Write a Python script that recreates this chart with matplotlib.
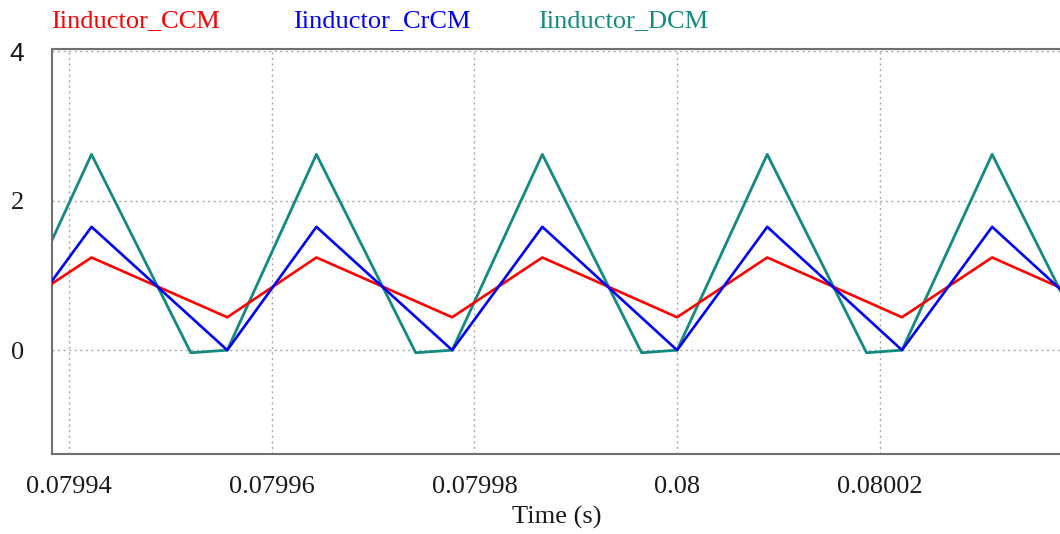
import matplotlib
matplotlib.use("Agg")
import matplotlib.pyplot as plt

# ---- data (vertex times in s, currents in A) ----
t_cc = [0.0799333, 0.0799422, 0.0799556, 0.0799644, 0.0799778, 0.0799867,
        0.0800000, 0.0800089, 0.0800222, 0.0800311, 0.0800444]
i_ccm = [0.44, 1.24, 0.44, 1.24, 0.44, 1.24, 0.44, 1.24, 0.44, 1.24, 0.44]
i_crcm = [0.0, 1.65, 0.0, 1.65, 0.0, 1.65, 0.0, 1.65, 0.0, 1.65, 0.0]

t_dcm = [0.0799333, 0.0799422, 0.0799520, 0.0799556, 0.0799644, 0.0799742,
         0.0799778, 0.0799867, 0.0799965, 0.0800000, 0.0800089, 0.0800187,
         0.0800222, 0.0800311, 0.0800409, 0.0800444]
i_dcm = [0.0, 2.62, -0.035, 0.0, 2.62, -0.035, 0.0, 2.62, -0.035, 0.0,
         2.62, -0.035, 0.0, 2.62, -0.035, 0.0]

series_names = ["Iinductor_CCM", "Iinductor_CrCM", "Iinductor_DCM"]
series_colors = ["#ff0000", "#0000ff", "#138a80"]

x_ticks = [0.07994, 0.07996, 0.07998, 0.08, 0.08002]
x_ticklabels = ["0.07994", "0.07996", "0.07998", "0.08", "0.08002"]
y_ticks = [0, 2, 4]
y_ticklabels = ["0", "2", "4"]
x_label = "Time (s)"

# ---- figure ----
serif = ["Liberation Serif", "DejaVu Serif"]
fig = plt.figure(figsize=(10.6, 5.34), dpi=100)
ax = fig.add_axes([52/1060, 80/534, 1 - 52/1060, (454-49)/534])

ax.plot(t_cc, i_ccm, color=series_colors[0], lw=1.9, zorder=3)
ax.plot(t_cc, i_crcm, color=series_colors[1], lw=1.9, zorder=4)
ax.plot(t_dcm, i_dcm, color=series_colors[2], lw=2.0, zorder=2)

ax.set_xlim(0.0799383, 0.0800378)
ax.set_ylim(-1.39, 4.03)

ax.set_xticks(x_ticks)
ax.set_xticklabels(x_ticklabels, fontfamily=serif, fontsize=19, color="#1a1a1a")
ax.set_yticks(y_ticks)
ylabels = ax.set_yticklabels(y_ticklabels, fontfamily=serif, fontsize=19, color="#1a1a1a")
ylabels[2].set_fontfamily(["Liberation Sans", "DejaVu Sans"])
ax.tick_params(axis="both", length=0)
ax.tick_params(axis="x", pad=16)
ax.tick_params(axis="y", pad=20)

ax.grid(True, color="#a8a8a8", linestyle=(0, (1.5, 2.5)), linewidth=1.0)
ax.set_axisbelow(True)

for side in ["left", "bottom", "top"]:
    ax.spines[side].set_color("#707070")
    ax.spines[side].set_linewidth(1.5)
ax.spines["right"].set_visible(False)

# series titles
title_x = [51/1060, 292.7/1060, 538/1060]
for name, col, xx in zip(series_names, series_colors, title_x):
    fig.text(xx, (534-27)/534, name, color=col, fontfamily=serif, fontsize=19,
             ha="left", va="baseline")

fig.text(557/1060, (534-517)/534, x_label, fontfamily=serif, fontsize=19,
         color="#1a1a1a", ha="center", va="center")

fig.savefig("out.png", dpi=100)
